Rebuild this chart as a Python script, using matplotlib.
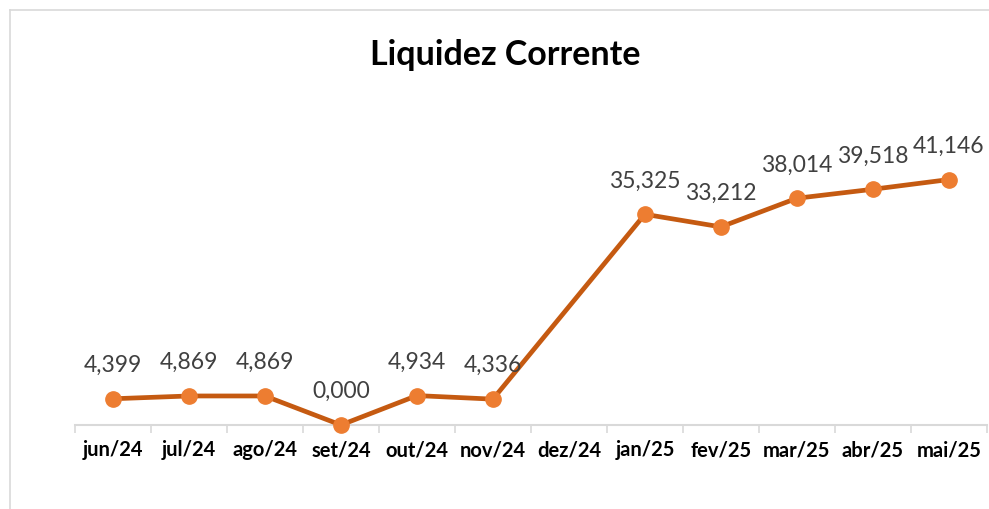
import numpy as np
import matplotlib
matplotlib.use("Agg")
import matplotlib.pyplot as plt
from matplotlib.lines import Line2D

meses = ['jun/24', 'jul/24', 'ago/24', 'set/24', 'out/24', 'nov/24',
         'dez/24', 'jan/25', 'fev/25', 'mar/25', 'abr/25', 'mai/25']
liquidez = [4.399, 4.869, 4.869, 0.000, 4.934, 4.336,
            np.nan, 35.325, 33.212, 38.014, 39.518, 41.146]

plt.rcParams['font.family'] = ['Lato', 'DejaVu Sans']

fig = plt.figure(figsize=(9.89, 5.09), dpi=100)
ax = fig.add_axes([0.0758, 0.165, 0.922, 0.586])

x = np.arange(len(meses))
y = np.array(liquidez)
ok = ~np.isnan(y)
ax.plot(x[ok], y[ok], color='#C55A11', lw=3.4, marker='o', ms=11,
        mfc='#ED7D31', mec='#ED7D31', zorder=3, clip_on=False)

for xi, yi in zip(x[ok], y[ok]):
    ax.annotate(f'{yi:.3f}'.replace('.', ','), (xi, yi), xytext=(0, 24),
                textcoords='offset points', ha='center', va='center',
                fontsize=16.5, color='#404040')

ax.set_xlim(-0.5, len(meses) - 0.5)
ax.set_ylim(0, 50)
ax.set_xticks(x)
ax.set_xticklabels(meses, fontsize=14.5, fontweight='bold')
ax.tick_params(axis='x', length=0, pad=11)
ax.set_xticks(np.arange(-0.5, len(meses)), minor=True)
ax.tick_params(axis='x', which='minor', length=6, color='#D9D9D9', width=1.2)
ax.set_yticks([])
for s in ['top', 'right', 'left']:
    ax.spines[s].set_visible(False)
ax.spines['bottom'].set_color('#D9D9D9')
ax.spines['bottom'].set_linewidth(1.5)

fig.text(0.511, 0.892, 'Liquidez Corrente', ha='center', va='center',
         fontsize=24.5, fontweight='bold', color='black')

# chart frame
fig.add_artist(Line2D([10 / 989, 1], [1 - 10 / 509, 1 - 10 / 509],
                      color='#D9D9D9', lw=1.2, transform=fig.transFigure))
fig.add_artist(Line2D([10 / 989, 10 / 989], [0, 1 - 10 / 509],
                      color='#D9D9D9', lw=1.2, transform=fig.transFigure))

fig.savefig('out.png', dpi=100)
